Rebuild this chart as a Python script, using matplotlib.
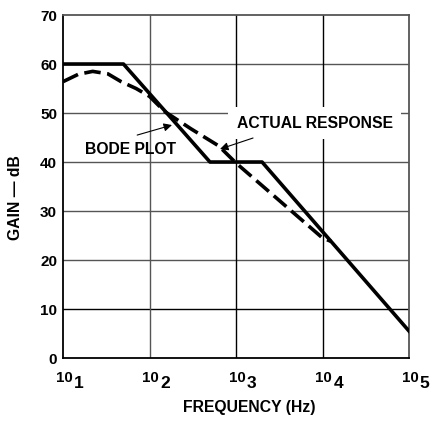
import numpy as np
import matplotlib.pyplot as plt

plt.rcParams['font.family'] = ['Liberation Sans', 'DejaVu Sans']
plt.rcParams['font.weight'] = 'bold'

# Bode asymptotes
bode_freq = [10, 50, 500, 2000, 100000]
bode_gain = [60, 60, 40, 40, 5.5]

# measured (actual) response
actual_freq = [10, 15, 22, 33, 47, 70, 100, 150, 300, 630, 1000, 10000, 12600]
actual_gain = [56.4, 57.9, 58.5, 58.0, 56.4, 55.0, 53.4, 50.3, 46.8, 43.3, 39.8, 24.5, 23.8]

y_ticks = [0, 10, 20, 30, 40, 50, 60, 70]
x_exps = [1, 2, 3, 4, 5]

fig = plt.figure(figsize=(4.31, 4.21), dpi=100)
ax = fig.add_axes([0.1462, 0.1496, 0.8028, 0.8147])

ax.set_xscale('log')
ax.set_xlim(10, 1e5)
ax.set_ylim(0, 70)

# grid
for v in y_ticks[1:-1]:
    c = 'black' if v == 10 else '#555555'
    ax.axhline(v, color=c, lw=1, zorder=1)
for e in x_exps[1:-1]:
    c = '#555555' if e == 2 else 'black'
    ax.axvline(10 ** e, color=c, lw=1, zorder=1)

for s in ['left', 'bottom']:
    ax.spines[s].set_linewidth(1.3)
for s in ['top', 'right']:
    ax.spines[s].set_color('#555555')
    ax.spines[s].set_linewidth(1.3)

ax.plot(bode_freq, bode_gain, color='black', lw=2.6, zorder=3)
ax.plot(actual_freq, actual_gain, color='black', lw=2.6, dashes=(4.6, 1.8), zorder=3)

ax.set_yticks(y_ticks)
ax.set_yticklabels([str(v) for v in y_ticks], fontsize=11, fontweight='bold')
ax.tick_params(axis='y', length=0, pad=4.3)
ax.set_xticks([10 ** e for e in x_exps])
ax.set_xticklabels([])
ax.minorticks_off()
ax.tick_params(axis='x', length=0)

for e in x_exps:
    ax.annotate('10', xy=(10 ** e, 0), xycoords=('data', 'axes fraction'),
                xytext=(0.7, -14.4), textcoords='offset points',
                ha='center', va='center', fontsize=10.8, fontweight='bold')
    ax.annotate(str(e), xy=(10 ** e, 0), xycoords=('data', 'axes fraction'),
                xytext=(7.8, -18), textcoords='offset points',
                ha='left', va='center', fontsize=12.5, fontweight='bold')

fig.text(0.579, 0.031, 'FREQUENCY (Hz)', ha='center', va='center',
         fontsize=11.3, fontweight='bold')
fig.text(0.037, 0.530, 'GAIN — dB', ha='center', va='center', rotation=90,
         fontsize=11.3, fontweight='bold')

# labels and arrows
ax.text(61, 42.65, 'BODE PLOT', ha='center', va='center',
        fontsize=11.3, fontweight='bold', zorder=4)
ax.annotate('', xy=(182, 47.55), xytext=(72, 45.5),
            arrowprops=dict(arrowstyle='-|>', color='black', lw=0.8,
                            shrinkA=0, shrinkB=0, mutation_scale=12),
            zorder=4)
ax.text(8090, 47.96, 'ACTUAL RESPONSE', ha='center', va='center',
        fontsize=11.3, fontweight='bold', zorder=4,
        bbox=dict(boxstyle='square,pad=0.55', fc='white', ec='none'))
ax.annotate('', xy=(653, 42.65), xytext=(1573, 44.9),
            arrowprops=dict(arrowstyle='-|>', color='black', lw=0.8,
                            shrinkA=0, shrinkB=0, mutation_scale=12),
            zorder=5)

fig.savefig('out.png', dpi=100)
